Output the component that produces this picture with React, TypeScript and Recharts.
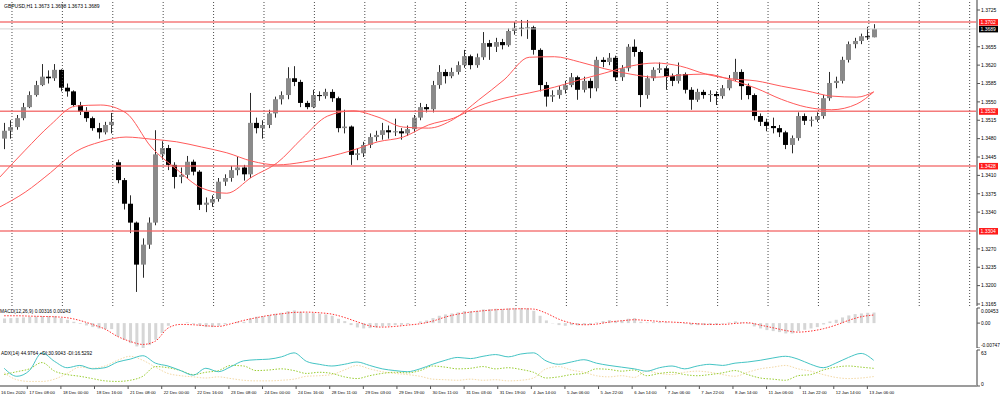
import { Bar, ComposedChart, Line, ReferenceLine, XAxis, YAxis } from 'recharts'

// GBPUSD H1, one candle per 3 hours
const opens = [
  1.3480, 1.3495, 1.3502, 1.3519, 1.3540, 1.3563, 1.3582, 1.3598, 1.3595, 1.3611,
  1.3577, 1.3570, 1.3544, 1.3531, 1.3519, 1.3500, 1.3492, 1.3506, 1.3435, 1.3401,
  1.3356, 1.3320, 1.3240, 1.3278, 1.3320, 1.3450, 1.3462, 1.3430, 1.3407, 1.3411,
  1.3436, 1.3417, 1.3354, 1.3358, 1.3365, 1.3398, 1.3405, 1.3420, 1.3425, 1.3412,
  1.3510, 1.3500, 1.3506, 1.3528, 1.3555, 1.3563, 1.3595, 1.3588, 1.3548, 1.3540,
  1.3563, 1.3561, 1.3569, 1.3557, 1.3500, 1.3503, 1.3449, 1.3452, 1.3468, 1.3483,
  1.3487, 1.3496, 1.3492, 1.3494, 1.3490, 1.3498, 1.3520, 1.3540, 1.3536, 1.3582,
  1.3607, 1.3599, 1.3607, 1.3620, 1.3637, 1.3620, 1.3635, 1.3662, 1.3655, 1.3664,
  1.3658, 1.3685, 1.3691, 1.3690, 1.3692, 1.3649, 1.3582, 1.3560, 1.3563, 1.3573,
  1.3582, 1.3597, 1.3573, 1.3590, 1.3576, 1.3630, 1.3626, 1.3634, 1.3597, 1.3614,
  1.3655, 1.3645, 1.3563, 1.3595, 1.3611, 1.3614, 1.3599, 1.3590, 1.3603, 1.3573,
  1.3554, 1.3569, 1.3563, 1.3565, 1.3561, 1.3576, 1.3592, 1.3607, 1.3580, 1.3563,
  1.3523, 1.3512, 1.3504, 1.3500, 1.3492, 1.3468, 1.3481, 1.3523, 1.3514, 1.3516,
  1.3523, 1.3557, 1.3586, 1.3590, 1.3630, 1.3660, 1.3666, 1.3675, 1.3673,
]
const highs = [
  1.3510, 1.3515, 1.3525, 1.3548, 1.3570, 1.3590, 1.3622, 1.3610, 1.3622, 1.3612,
  1.3585, 1.3572, 1.3550, 1.3540, 1.3522, 1.3510, 1.3512, 1.3529, 1.3440, 1.3405,
  1.3372, 1.3322, 1.3290, 1.3330, 1.3496, 1.3475, 1.3468, 1.3435, 1.3425, 1.3447,
  1.3440, 1.3420, 1.3368, 1.3372, 1.3405, 1.3412, 1.3428, 1.3445, 1.3430, 1.3567,
  1.3520, 1.3515, 1.3535, 1.3560, 1.3570, 1.3616, 1.3618, 1.3592, 1.3552, 1.3573,
  1.3570, 1.3575, 1.3574, 1.3560, 1.3535, 1.3505, 1.3462, 1.3474, 1.3490, 1.3495,
  1.3510, 1.3505, 1.3518, 1.3500, 1.3505, 1.3525, 1.3548, 1.3546, 1.3590, 1.3620,
  1.3612, 1.3615, 1.3627, 1.3649, 1.3640, 1.3642, 1.3683, 1.3668, 1.3672, 1.3670,
  1.3690, 1.3702, 1.3706, 1.3706, 1.3695, 1.3652, 1.3588, 1.3572, 1.3580, 1.3590,
  1.3605, 1.3600, 1.3598, 1.3595, 1.3636, 1.3635, 1.3643, 1.3638, 1.3620, 1.3660,
  1.3669, 1.3648, 1.3600, 1.3616, 1.3625, 1.3618, 1.3604, 1.3625, 1.3606, 1.3578,
  1.3575, 1.3573, 1.3572, 1.3570, 1.3582, 1.3601, 1.3632, 1.3612, 1.3585, 1.3566,
  1.3528, 1.3518, 1.3520, 1.3506, 1.3495, 1.3486, 1.3530, 1.3528, 1.3522, 1.3530,
  1.3563, 1.3607, 1.3598, 1.3636, 1.3665, 1.3672, 1.3680, 1.3693, 1.3698,
]
const lows = [
  1.3460, 1.3480, 1.3497, 1.3515, 1.3538, 1.3560, 1.3580, 1.3585, 1.3590, 1.3570,
  1.3560, 1.3540, 1.3525, 1.3512, 1.3495, 1.3480, 1.3488, 1.3490, 1.3395, 1.3345,
  1.3300, 1.3188, 1.3215, 1.3270, 1.3315, 1.3440, 1.3420, 1.3385, 1.3395, 1.3405,
  1.3410, 1.3344, 1.3340, 1.3350, 1.3360, 1.3390, 1.3398, 1.3410, 1.3400, 1.3405,
  1.3490, 1.3480, 1.3500, 1.3520, 1.3545, 1.3555, 1.3580, 1.3540, 1.3536, 1.3538,
  1.3552, 1.3556, 1.3550, 1.3492, 1.3490, 1.3430, 1.3439, 1.3445, 1.3462, 1.3475,
  1.3478, 1.3480, 1.3485, 1.3478, 1.3485, 1.3492, 1.3515, 1.3530, 1.3530, 1.3575,
  1.3585, 1.3595, 1.3602, 1.3615, 1.3612, 1.3615, 1.3630, 1.3630, 1.3645, 1.3650,
  1.3655, 1.3678, 1.3675, 1.3670, 1.3640, 1.3570, 1.3541, 1.3550, 1.3556, 1.3566,
  1.3578, 1.3554, 1.3568, 1.3557, 1.3570, 1.3616, 1.3620, 1.3590, 1.3590, 1.3608,
  1.3636, 1.3540, 1.3556, 1.3590, 1.3605, 1.3573, 1.3580, 1.3585, 1.3566, 1.3535,
  1.3550, 1.3556, 1.3550, 1.3544, 1.3556, 1.3572, 1.3590, 1.3554, 1.3555, 1.3515,
  1.3504, 1.3494, 1.3490, 1.3483, 1.3460, 1.3452, 1.3476, 1.3506, 1.3503, 1.3512,
  1.3518, 1.3552, 1.3576, 1.3585, 1.3625, 1.3652, 1.3660, 1.3668, 1.3673,
]
const closes = [
  1.3495, 1.3502, 1.3519, 1.3540, 1.3563, 1.3582, 1.3598, 1.3595, 1.3611, 1.3577,
  1.3570, 1.3544, 1.3531, 1.3519, 1.3500, 1.3492, 1.3506, 1.3512, 1.3401, 1.3356,
  1.3320, 1.3240, 1.3278, 1.3320, 1.3450, 1.3462, 1.3430, 1.3407, 1.3411, 1.3436,
  1.3417, 1.3354, 1.3358, 1.3365, 1.3398, 1.3405, 1.3420, 1.3425, 1.3412, 1.3510,
  1.3500, 1.3506, 1.3528, 1.3555, 1.3563, 1.3595, 1.3588, 1.3548, 1.3540, 1.3563,
  1.3561, 1.3569, 1.3557, 1.3500, 1.3503, 1.3449, 1.3452, 1.3468, 1.3483, 1.3487,
  1.3496, 1.3492, 1.3494, 1.3490, 1.3498, 1.3520, 1.3540, 1.3536, 1.3582, 1.3607,
  1.3599, 1.3607, 1.3620, 1.3637, 1.3620, 1.3635, 1.3662, 1.3655, 1.3664, 1.3658,
  1.3685, 1.3691, 1.3690, 1.3692, 1.3649, 1.3582, 1.3560, 1.3563, 1.3573, 1.3582,
  1.3597, 1.3573, 1.3590, 1.3576, 1.3630, 1.3626, 1.3634, 1.3597, 1.3614, 1.3655,
  1.3645, 1.3563, 1.3595, 1.3611, 1.3614, 1.3599, 1.3590, 1.3603, 1.3573, 1.3554,
  1.3569, 1.3563, 1.3565, 1.3561, 1.3576, 1.3592, 1.3607, 1.3580, 1.3563, 1.3523,
  1.3512, 1.3504, 1.3500, 1.3492, 1.3468, 1.3481, 1.3523, 1.3514, 1.3516, 1.3523,
  1.3557, 1.3586, 1.3590, 1.3630, 1.3660, 1.3666, 1.3675, 1.3673, 1.3689,
]

// the two red moving averages, one reading every 12 bars
const maFast = [
  1.3407, 1.3458, 1.3506, 1.3542, 1.3544, 1.3529, 1.3464, 1.3422, 1.3386, 1.3376,
  1.3407, 1.3434, 1.3481, 1.3523, 1.3533, 1.3521, 1.3502, 1.3500, 1.3517, 1.3554,
  1.3592, 1.3635, 1.3636, 1.3626, 1.3613, 1.3603, 1.3597, 1.3601, 1.3603, 1.3592,
  1.3576, 1.3555, 1.3540, 1.3535, 1.3546, 1.3569,
]
const maSlow = [
  1.3350, 1.3378, 1.3415, 1.3455, 1.3474, 1.3483, 1.3479, 1.3474, 1.3464, 1.3453,
  1.3437, 1.3430, 1.3435, 1.3445, 1.3458, 1.3474, 1.3483, 1.3506, 1.3519, 1.3542,
  1.3557, 1.3567, 1.3578, 1.3592, 1.3605, 1.3618, 1.3624, 1.3618, 1.3603, 1.3594,
  1.3590, 1.3580, 1.3571, 1.3561, 1.3559, 1.3569,
]

// horizontal levels drawn on the chart
const levels = [1.3702, 1.3532, 1.3428, 1.3304]
const priceTicks = [
  1.3725, 1.3655, 1.362, 1.3585, 1.355, 1.3515, 1.348, 1.3445, 1.341, 1.3375, 1.334, 1.327, 1.3235, 1.32, 1.3165,
]

// MACD(12,26,9): main per candle, signal every second candle
const macd = [
  0.0014, 0.0015, 0.0016, 0.0017, 0.0019, 0.002, 0.0021, 0.0021, 0.0021, 0.0015,
  0.001, 0.0004, -0.0002, -0.0007, -0.0012, -0.0016, -0.0018, -0.0018, -0.004, -0.005,
  -0.006, -0.007, -0.00747, -0.0066, -0.005, -0.003, -0.0008, 0.0, 0.0, 0.0002,
  -0.0002, -0.0008, -0.0012, -0.0012, -0.0008, -0.0004, 0.0, 0.0004, 0.0004, 0.0014,
  0.0019, 0.0021, 0.0024, 0.0028, 0.0031, 0.0036, 0.0038, 0.0034, 0.0031, 0.003,
  0.0028, 0.0026, 0.0022, 0.0013, 0.0006, -0.0006, -0.0013, -0.0016, -0.0015, -0.0013,
  -0.001, -0.0008, -0.0006, -0.0005, -0.0003, 0.0, 0.0005, 0.0008, 0.0015, 0.0022,
  0.0026, 0.0029, 0.0032, 0.0036, 0.0036, 0.0037, 0.0041, 0.0042, 0.0043, 0.0042,
  0.0044, 0.00453, 0.0045, 0.0044, 0.0037, 0.0022, 0.0008, -0.0001, -0.0006, -0.0008,
  -0.0006, -0.0007, -0.0005, -0.0005, 0.0002, 0.0006, 0.0009, 0.0007, 0.0008, 0.0013,
  0.0015, 0.0004, 0.0002, 0.0003, 0.0004, 0.0003, 0.0001, 0.0002, -0.0002, -0.0006,
  -0.0006, -0.0006, -0.0005, -0.0005, -0.0002, 0.0002, 0.0005, 0.0002, -0.0002, -0.001,
  -0.0016, -0.0021, -0.0024, -0.0027, -0.0031, -0.0031, -0.0024, -0.002, -0.0016, -0.0012,
  -0.0004, 0.0005, 0.001, 0.0017, 0.0023, 0.0027, 0.0029, 0.0031, 0.00316,
]
const macdSignal = [
  0.0022, 0.0022, 0.0021, 0.002, 0.0019, 0.0016, 0.0008, -0.0004, -0.0018, -0.004,
  -0.0055, -0.0064, -0.0054, -0.0015, -0.0004, -0.0005, -0.0008, -0.001, -0.0002, 0.0008,
  0.0016, 0.0023, 0.0028, 0.0032, 0.0033, 0.0031, 0.0027, 0.0017, 0.0004, -0.0008,
  -0.0012, -0.001, -0.0006, -0.0002, 0.0006, 0.0018, 0.0027, 0.0033, 0.0037, 0.004,
  0.0042, 0.0043, 0.0042, 0.003, 0.0012, 0.0, -0.0005, -0.0003, 0.0003, 0.0007,
  0.001, 0.0008, 0.0005, 0.0003, 0.0001, -0.0002, -0.0004, -0.0004, -0.0001, 0.0001,
  -0.0006, -0.0014, -0.0022, -0.0027, -0.0024, -0.0017, -0.0006, 0.0008, 0.0019, 0.00243,
]

// ADX(14) with +DI / -DI, every second candle
const adx = [
  31, 17, 27, 58, 43, 32, 36, 30, 32, 42,
  47, 53, 40, 35, 27, 19, 31, 25, 34, 44,
  46, 47, 51, 58, 43, 38, 35, 38, 42, 36,
  30, 27, 25, 30, 38, 45, 50, 48, 52, 55,
  51, 56, 58, 44, 38, 42, 46, 40, 36, 33,
  30, 26, 32, 35, 30, 35, 38, 36, 40, 42,
  45, 49, 52, 47, 38, 32, 40, 50, 57, 44.9764,
]
const plusDi = [
  20, 25, 30, 41, 26, 20, 17, 13, 9, 8,
  10, 17, 34, 32, 27, 20, 24, 27, 36, 35,
  27, 28, 30, 27, 22, 24, 22, 16, 13, 18,
  22, 24, 23, 27, 35, 33, 30, 31, 34, 30,
  32, 29, 24, 14, 16, 20, 22, 30, 29, 26,
  28, 18, 22, 24, 20, 18, 20, 23, 27, 20,
  14, 12, 10, 18, 20, 28, 33, 35, 33, 30.9043,
]
const minusDi = [
  23, 11, 8, 8, 12, 22, 33, 31, 35, 45,
  52, 45, 33, 22, 18, 16, 14, 16, 13, 10,
  9, 9, 10, 12, 17, 18, 20, 28, 36, 30,
  25, 22, 20, 17, 12, 11, 10, 12, 10, 11,
  9, 10, 14, 30, 34, 28, 24, 18, 16, 18,
  15, 26, 22, 20, 24, 26, 24, 20, 17, 24,
  30, 33, 36, 30, 26, 20, 15, 13, 14, 16.5292,
]

const timeLabels = [
  '16 Dec 2020', '17 Dec 08:00', '18 Dec 00:00', '18 Dec 16:00', '21 Dec 08:00', '22 Dec 00:00',
  '22 Dec 16:00', '23 Dec 08:00', '24 Dec 00:00', '24 Dec 16:00', '28 Dec 11:00', '29 Dec 03:00',
  '29 Dec 19:00', '30 Dec 11:00', '31 Dec 03:00', '31 Dec 19:00', '4 Jan 14:00', '5 Jan 06:00',
  '5 Jan 22:00', '6 Jan 14:00', '7 Jan 06:00', '7 Jan 22:00', '8 Jan 14:00', '11 Jan 06:00',
  '11 Jan 22:00', '12 Jan 14:00', '13 Jan 06:00',
]

// x axis is counted in H1 bars
const hourSpan = 465.2
const lastHour = 2 + 3 * (closes.length - 1)
const labelHours = timeLabels.map((_, k) => -3 + 16 * k)
const gridHours = Array.from({ length: 20 }, (_, k) => 5.7 + 24 * k)

const candles = closes.map((c, i) => ({
  t: 2 + 3 * i,
  o: opens[i],
  h: highs[i],
  l: lows[i],
  c,
  range: [lows[i], highs[i]],
  macd: macd[i],
}))
const slowRows = macdSignal.map((s, k) => ({ t: 2 + 6 * k, signal: s, adx: adx[k], plus: plusDi[k], minus: minusDi[k] }))
const maRows = maFast.map((v, k) => ({ t: Math.min(12 * k, lastHour), fast: v, slow: maSlow[k] }))

const last = candles[candles.length - 1]
const border = { stroke: '#9c9c9c', strokeWidth: 2 }
const font = 'Liberation Sans, Arial, sans-serif'

function Candle(props: any) {
  const { x, y, width, height, payload } = props
  const top = Math.min(y, y + height)
  const span = Math.abs(height)
  const { o, h, l, c } = payload
  const k = h === l ? 0 : span / (h - l)
  const yOf = (v: number) => top + (h - v) * k
  const cx = Math.round(x + width / 2) + 0.5
  const bodyTop = yOf(Math.max(o, c))
  const bodyBot = yOf(Math.min(o, c))
  return (
    <g>
      <line x1={cx} x2={cx} y1={top} y2={top + span} stroke="#2b2b2b" strokeWidth={1} />
      <rect x={cx - 2.5} y={bodyTop} width={5} height={Math.max(1, bodyBot - bodyTop)} fill={c >= o ? '#8a8a8a' : '#000'} />
    </g>
  )
}

function priceTag(value: number, fill: string) {
  return (props: any) => {
    const vb = props.viewBox
    const x = vb.x + vb.width + 2
    return (
      <g>
        <rect x={x} y={vb.y - 3} width={19} height={6.5} fill={fill} />
        <text x={x + 1.5} y={vb.y + 1.8} fontSize={5} fill="#fff" fontFamily={font}>
          {value.toFixed(4)}
        </text>
      </g>
    )
  }
}

function PriceTick({ x, y, payload }: any) {
  return (
    <text x={x} y={y + 1.8} fontSize={5} fill="#000" fontFamily={font}>
      {Number(payload.value).toFixed(4)}
    </text>
  )
}

function MacdTick({ x, y, payload }: any) {
  const v = Number(payload.value)
  const dy = v > 0 ? 5 : v < 0 ? -1 : 2
  return (
    <text x={x} y={y + dy} fontSize={4.8} fill="#000" fontFamily={font}>
      {v === 0 ? '0.00' : v.toFixed(5)}
    </text>
  )
}

function DiTick({ x, y, payload }: any) {
  const v = Number(payload.value)
  return (
    <text x={x} y={y + (v > 0 ? 5 : 0)} fontSize={5} fill="#000" fontFamily={font}>
      {v}
    </text>
  )
}

function TimeTick({ x, y, payload }: any) {
  const idx = labelHours.indexOf(payload.value)
  return (
    <text x={Math.max(1, x + 2)} y={y + 3} fontSize={4.3} fill="#000" fontFamily={font}>
      {timeLabels[idx]}
    </text>
  )
}

const textStyle = { position: 'absolute' as const, fontSize: 4.8, fontFamily: font, color: '#000', whiteSpace: 'nowrap' as const, lineHeight: '6px' }

export default function App() {
  return (
    <div style={{ position: 'absolute', left: 0, top: 0, width: 1000, height: 399, background: '#fff', overflow: 'hidden' }}>
      <div style={{ position: 'absolute', left: 0, top: 0 }}>
        <ComposedChart width={1000} height={306} data={candles} margin={{ top: 0, right: 0, bottom: 0, left: 0 }}>
          <XAxis dataKey="t" type="number" domain={[0, hourSpan]} tick={false} tickLine={false} height={0} axisLine={border} allowDataOverflow />
          <XAxis xAxisId="top" orientation="top" dataKey="t" type="number" domain={[0, hourSpan]} tick={false} tickLine={false} height={0} axisLine={border} allowDataOverflow />
          <YAxis orientation="right" width={23} domain={[1.316119, 1.374405]} ticks={priceTicks} interval={0} tick={PriceTick} tickSize={3} tickMargin={1} axisLine={border} tickLine={{ stroke: '#555' }} allowDataOverflow />
          {gridHours.map((t) => (
            <ReferenceLine key={t} x={t} stroke="#4a4a4a" strokeDasharray="1 2" strokeWidth={1} />
          ))}
          <ReferenceLine y={last.c} stroke="#d4d4d4" strokeWidth={1} label={priceTag(last.c, '#000')} />
          {levels.map((v) => (
            <ReferenceLine key={v} y={v} stroke="#f26464" strokeOpacity={0.85} strokeWidth={1.5} label={priceTag(v, '#ff1a1a')} />
          ))}
          <Line data={maRows} dataKey="slow" type="monotone" stroke="#ff5a5a" strokeWidth={1} dot={false} isAnimationActive={false} />
          <Line data={maRows} dataKey="fast" type="monotone" stroke="#ff5a5a" strokeWidth={1} dot={false} isAnimationActive={false} />
          <Bar dataKey="range" barSize={5} shape={Candle} isAnimationActive={false} />
        </ComposedChart>
      </div>
      <div style={{ ...textStyle, left: 4, top: 3, fontSize: 5 }}>
        GBPUSD,H1 {last.o.toFixed(4)} {last.h.toFixed(4)} {last.l.toFixed(4)} {last.c.toFixed(4)}
      </div>

      <div style={{ position: 'absolute', left: 0, top: 307 }}>
        <ComposedChart width={1000} height={41} data={candles} margin={{ top: 1, right: 0, bottom: 0, left: 0 }}>
          <XAxis dataKey="t" type="number" domain={[0, hourSpan]} tick={false} tickLine={false} height={0} axisLine={border} allowDataOverflow />
          <YAxis orientation="right" width={23} domain={[-0.00747, 0.00453]} ticks={[0.00453, 0, -0.00747]} interval={0} tick={MacdTick} tickSize={3} tickMargin={1} axisLine={border} tickLine={{ stroke: '#555' }} allowDataOverflow />
          <Bar dataKey="macd" barSize={3} fill="#d6d6d6" isAnimationActive={false} />
          <Line data={slowRows} dataKey="signal" type="monotone" stroke="#ff3030" strokeWidth={1} strokeDasharray="1.5 1.5" dot={false} isAnimationActive={false} />
        </ComposedChart>
      </div>
      <div style={{ ...textStyle, left: 0, top: 309 }}>
        MACD(12,26,9) {macd[macd.length - 1].toFixed(5)} {macdSignal[macdSignal.length - 1].toFixed(5)}
      </div>

      <div style={{ position: 'absolute', left: 0, top: 349 }}>
        <ComposedChart width={1000} height={50} data={slowRows} margin={{ top: 1, right: 0, bottom: 0, left: 0 }}>
          <XAxis dataKey="t" type="number" domain={[0, hourSpan]} ticks={labelHours} interval={0} tick={TimeTick} tickSize={3} axisLine={border} tickLine={{ stroke: '#555' }} height={13} allowDataOverflow />
          <YAxis orientation="right" width={23} domain={[0, 63]} ticks={[63, 0]} interval={0} tick={DiTick} tickSize={3} tickMargin={1} axisLine={border} tickLine={{ stroke: '#555' }} allowDataOverflow />
          <Line dataKey="minus" type="monotone" stroke="#f3d9a6" strokeWidth={1} strokeDasharray="1.5 1.5" dot={false} isAnimationActive={false} />
          <Line dataKey="plus" type="monotone" stroke="#9acd32" strokeWidth={1} strokeDasharray="1.5 1.5" dot={false} isAnimationActive={false} />
          <Line dataKey="adx" type="monotone" stroke="#44c4c4" strokeWidth={1} dot={false} isAnimationActive={false} />
        </ComposedChart>
      </div>
      <div style={{ ...textStyle, left: 1, top: 351 }}>
        ADX(14) {adx[adx.length - 1].toFixed(4)} +DI:{plusDi[plusDi.length - 1].toFixed(4)} -DI:{minusDi[minusDi.length - 1].toFixed(4)}
      </div>
    </div>
  )
}
